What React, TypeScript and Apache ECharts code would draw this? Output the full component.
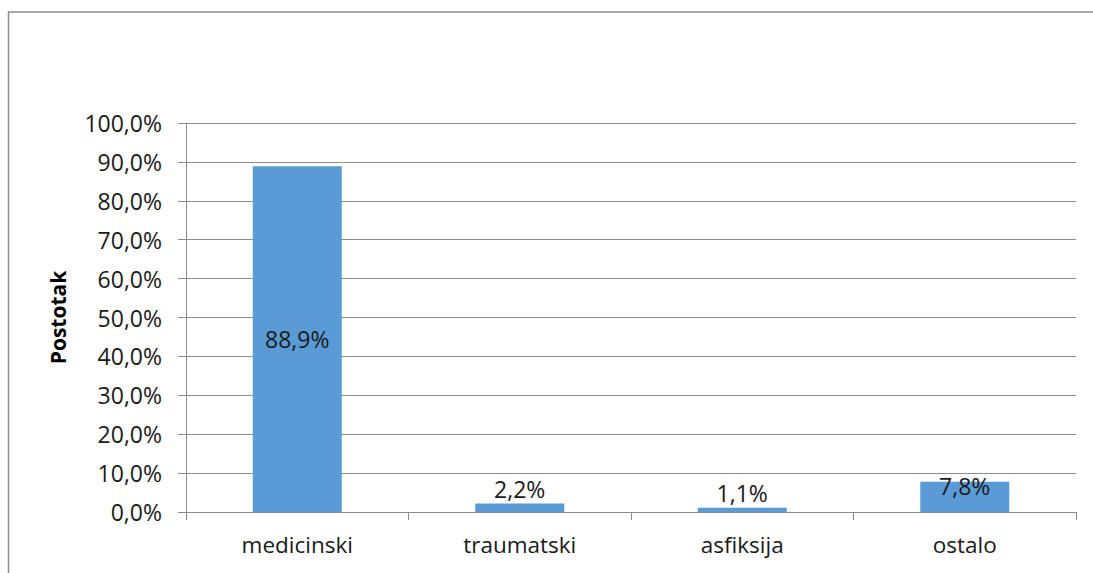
import React, { useEffect, useRef } from "react";
import * as echarts from "echarts";

const categories = ["medicinski", "traumatski", "asfiksija", "ostalo"];
const values = [88.9, 2.2, 1.1, 7.8];
const yTicks = [0, 10, 20, 30, 40, 50, 60, 70, 80, 90, 100];
const axisName = "Postotak";

const fmt = (v: number) => v.toFixed(1).replace(".", ",") + "%";

export default function App() {
  const ref = useRef<HTMLDivElement>(null);
  useEffect(() => {
    if (!ref.current) return;
    const chart = echarts.init(ref.current, null, { renderer: "svg" });
    const font = "'Open Sans', 'Noto Sans', sans-serif";
    chart.setOption({
      animation: false,
      backgroundColor: "#ffffff",
      graphic: [
        {
          type: "rect",
          shape: { x: 8.5, y: 12, width: 1200, height: 700 },
          style: { fill: "none", stroke: "#8c8c8c", lineWidth: 1.5 },
          silent: true,
        },
      ],
      grid: { left: 186, right: 17, top: 123, bottom: 61, containLabel: false },
      xAxis: {
        type: "category",
        data: categories,
        axisLine: { show: true, lineStyle: { color: "#8c8c8c", width: 1 } },
        axisTick: { show: true, alignWithLabel: false, length: 8, lineStyle: { color: "#8c8c8c" } },
        axisLabel: { color: "#1a1a1a", fontSize: 22.5, fontFamily: font, margin: 21 },
      },
      yAxis: {
        type: "value",
        min: yTicks[0],
        max: yTicks[yTicks.length - 1],
        interval: 10,
        name: axisName,
        nameLocation: "middle",
        nameGap: 118,
        nameTextStyle: { color: "#000", fontSize: 21, fontWeight: "bold", fontFamily: font },
        axisLine: { show: true, lineStyle: { color: "#8c8c8c", width: 1 } },
        axisTick: { show: true, length: 8, lineStyle: { color: "#8c8c8c" } },
        splitLine: { show: true, lineStyle: { color: "#8c8c8c", width: 1 } },
        axisLabel: {
          color: "#1a1a1a",
          fontSize: 23,
          fontFamily: font,
          margin: 24,
          formatter: (v: number) => fmt(v),
        },
      },
      series: [
        {
          type: "bar",
          data: values.map((v, i) => ({
            value: v,
            label:
              i === 0
                ? { position: "inside" }
                : i === 3
                ? { position: "insideTop", distance: -7 }
                : { position: "top", distance: 3 },
          })),
          barWidth: "40%",
          itemStyle: { color: "#5B9BD5" },
          label: {
            show: true,
            color: "#1a1a1a",
            fontSize: 23,
            fontFamily: font,
            formatter: (p: any) => fmt(p.value),
          },
        },
      ],
    });
    return () => chart.dispose();
  }, []);
  return (
    <div
      ref={ref}
      style={{ position: "fixed", left: 0, top: 0, width: 1093, height: 573 }}
    />
  );
}
